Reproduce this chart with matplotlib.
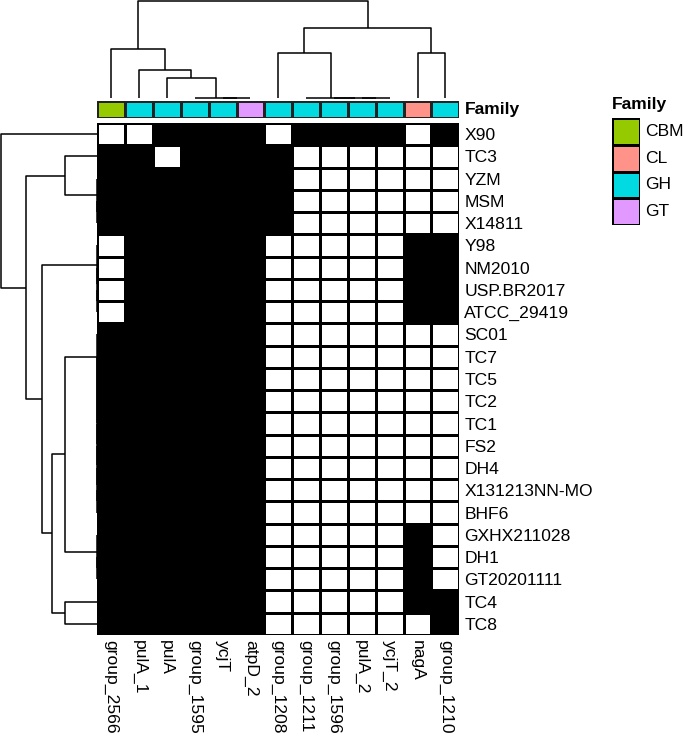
import numpy as np
import matplotlib
matplotlib.use("Agg")
import matplotlib.pyplot as plt
from matplotlib.colors import ListedColormap

plt.rcParams['font.family'] = ['Liberation Sans', 'DejaVu Sans']

# ---------------- data ----------------
col_labels = ["group_2566", "pulA_1", "pulA", "group_1595", "ycjT", "atpD_2",
              "group_1208", "group_1211", "group_1596", "pulA_2", "ycjT_2",
              "nagA", "group_1210"]
row_labels = ["X90", "TC3", "YZM", "MSM", "X14811", "Y98", "NM2010", "USP.BR2017",
              "ATCC_29419", "SC01", "TC7", "TC5", "TC2", "TC1", "FS2", "DH4",
              "X131213NN-MO", "BHF6", "GXHX211028", "DH1", "GT20201111", "TC4", "TC8"]
col_family = ["CBM", "GH", "GH", "GH", "GH", "GT", "GH", "GH", "GH", "GH", "GH", "CL", "GH"]
family_levels = ["CBM", "CL", "GH", "GT"]
family_colors = ["#96CA00", "#FF9289", "#00DAE0", "#E199FF"]

presence = [
    [0, 0, 1, 1, 1, 1, 0, 1, 1, 1, 1, 0, 1],  # X90
    [1, 1, 0, 1, 1, 1, 1, 0, 0, 0, 0, 0, 0],  # TC3
    [1, 1, 1, 1, 1, 1, 1, 0, 0, 0, 0, 0, 0],  # YZM
    [1, 1, 1, 1, 1, 1, 1, 0, 0, 0, 0, 0, 0],  # MSM
    [1, 1, 1, 1, 1, 1, 1, 0, 0, 0, 0, 0, 0],  # X14811
    [0, 1, 1, 1, 1, 1, 0, 0, 0, 0, 0, 1, 1],  # Y98
    [0, 1, 1, 1, 1, 1, 0, 0, 0, 0, 0, 1, 1],  # NM2010
    [0, 1, 1, 1, 1, 1, 0, 0, 0, 0, 0, 1, 1],  # USP.BR2017
    [0, 1, 1, 1, 1, 1, 0, 0, 0, 0, 0, 1, 1],  # ATCC_29419
    [1, 1, 1, 1, 1, 1, 0, 0, 0, 0, 0, 0, 0],  # SC01
    [1, 1, 1, 1, 1, 1, 0, 0, 0, 0, 0, 0, 0],  # TC7
    [1, 1, 1, 1, 1, 1, 0, 0, 0, 0, 0, 0, 0],  # TC5
    [1, 1, 1, 1, 1, 1, 0, 0, 0, 0, 0, 0, 0],  # TC2
    [1, 1, 1, 1, 1, 1, 0, 0, 0, 0, 0, 0, 0],  # TC1
    [1, 1, 1, 1, 1, 1, 0, 0, 0, 0, 0, 0, 0],  # FS2
    [1, 1, 1, 1, 1, 1, 0, 0, 0, 0, 0, 0, 0],  # DH4
    [1, 1, 1, 1, 1, 1, 0, 0, 0, 0, 0, 0, 0],  # X131213NN-MO
    [1, 1, 1, 1, 1, 1, 0, 0, 0, 0, 0, 0, 0],  # BHF6
    [1, 1, 1, 1, 1, 1, 0, 0, 0, 0, 0, 1, 0],  # GXHX211028
    [1, 1, 1, 1, 1, 1, 0, 0, 0, 0, 0, 1, 0],  # DH1
    [1, 1, 1, 1, 1, 1, 0, 0, 0, 0, 0, 1, 0],  # GT20201111
    [1, 1, 1, 1, 1, 1, 0, 0, 0, 0, 0, 1, 1],  # TC4
    [1, 1, 1, 1, 1, 1, 0, 0, 0, 0, 0, 0, 1],  # TC8
]

# dendrogram merges (hclust style: negative = leaf in display order, 1-based;
# positive = earlier merge, 1-based), with merge heights
col_merge_a = [-5, -4, -3, -2, -1, -10, -9, -8, -7, -12, 9, 5]
col_merge_b = [-6, 1, 2, 3, 4, -11, 6, 7, 8, -13, 10, 11]
col_merge_h = [0, 0, 1.0, 1.414, 2.449, 0, 0, 0, 2.236, 2.236, 3.464, 4.796]

row_merge_a = [-4, -3, -2, -8, -7, -6, -17, -16, -15, -14, -13, -12, -11, -10,
               -20, -19, 14, -22, 17, 6, 3, -1]
row_merge_b = [-5, 1, 2, -9, 4, 5, -18, 7, 8, 9, 10, 11, 12, 13,
               -21, 15, 16, -23, 18, 19, 20, 21]
row_merge_h = [0, 0, 1.0, 0, 0, 0, 0, 0, 0, 0, 0, 0, 0, 0,
               0, 0, 1.0, 1.0, 1.414, 1.732, 2.236, 3.0]

# ---------------- layout ----------------
W, H = 685, 739
fig = plt.figure(figsize=(W / 100, H / 100), dpi=100)


def px_axes(x0, y0, x1, y1):
    return fig.add_axes([x0 / W, 1 - y1 / H, (x1 - x0) / W, (y1 - y0) / H])


HX0, HX1 = 97.3, 459.3
HY0, HY1 = 123.0, 635.0
FS = 12.6

mat = np.array(presence)
nrow, ncol = mat.shape

# heatmap
axh = px_axes(HX0, HY0, HX1, HY1)
axh.pcolormesh(mat, cmap=ListedColormap(["white", "black"]), vmin=0, vmax=1,
               edgecolors="black", linewidth=1.0)
axh.set_xlim(0, ncol)
axh.set_ylim(nrow, 0)
axh.set_xticks(np.arange(ncol) + 0.5)
axh.set_xticklabels(col_labels, rotation=270, fontsize=FS, va="top", ha="center")
axh.set_yticks(np.arange(nrow) + 0.5)
axh.set_yticklabels(row_labels, fontsize=FS)
axh.yaxis.tick_right()
axh.tick_params(length=0, pad=3.5)
for s in axh.spines.values():
    s.set_visible(False)

# annotation bar
axa = px_axes(HX0, 100.7, HX1, 118.3)
fam_idx = np.array([[family_levels.index(f) for f in col_family]])
axa.pcolormesh(fam_idx, cmap=ListedColormap(family_colors), vmin=-0.5,
               vmax=len(family_levels) - 0.5, edgecolors="#222222", linewidth=1.0)
axa.set_xlim(0, ncol)
axa.set_ylim(0, 1)
axa.set_xticks([])
axa.set_yticks([])
for s in axa.spines.values():
    s.set_visible(False)
axa.text(1.0 + 5.5 / (HX1 - HX0), 0.5, "Family", transform=axa.transAxes,
         fontsize=FS, fontweight="bold", va="center", ha="left")


def dendro_coords(ma, mb, mh, nleaf):
    pos = {}
    hgt = {}
    segs = []
    for i, (a, b, h) in enumerate(zip(ma, mb, mh), start=1):
        def info(k):
            if k < 0:
                return -k - 0.5, 0.0
            return pos[k], hgt[k]
        xa, ha = info(a)
        xb, hb = info(b)
        segs.append(([xa, xa, xb, xb], [ha, h, h, hb]))
        pos[i] = (xa + xb) / 2
        hgt[i] = h
    return segs


# column dendrogram
axc = px_axes(HX0, 1.0, HX1, 98.3)
for xs, hs in dendro_coords(col_merge_a, col_merge_b, col_merge_h, ncol):
    axc.plot(xs, hs, color="black", lw=1.1, clip_on=False, solid_capstyle="butt")
axc.set_xlim(0, ncol)
axc.set_ylim(0, max(col_merge_h))
axc.axis("off")

# row dendrogram
axr = px_axes(1.0, HY0, HX0, HY1)
for ys, hs in dendro_coords(row_merge_a, row_merge_b, row_merge_h, nrow):
    axr.plot(hs, ys, color="black", lw=1.1, clip_on=False, solid_capstyle="butt")
axr.set_ylim(nrow, 0)
axr.set_xlim(max(row_merge_h), 0)
axr.axis("off")

# legend
axl = px_axes(612.3, 118.3, 640.0, 225.0)
leg_idx = np.arange(len(family_levels)).reshape(-1, 1)
axl.pcolormesh(leg_idx, cmap=ListedColormap(family_colors), vmin=-0.5,
               vmax=len(family_levels) - 0.5, edgecolors="black", linewidth=1.0)
axl.set_ylim(len(family_levels), 0)
axl.set_xlim(0, 1)
axl.set_xticks([])
axl.set_yticks([])
for s in axl.spines.values():
    s.set_visible(False)
for i, lab in enumerate(family_levels):
    axl.text(1.0 + 5 / 27.7, i + 0.5, lab, fontsize=FS, va="center", ha="left")
axl.text(0.0, -0.25, "Family", fontsize=FS, fontweight="bold", va="bottom",
         ha="left")

fig.savefig("out.png", dpi=100)
